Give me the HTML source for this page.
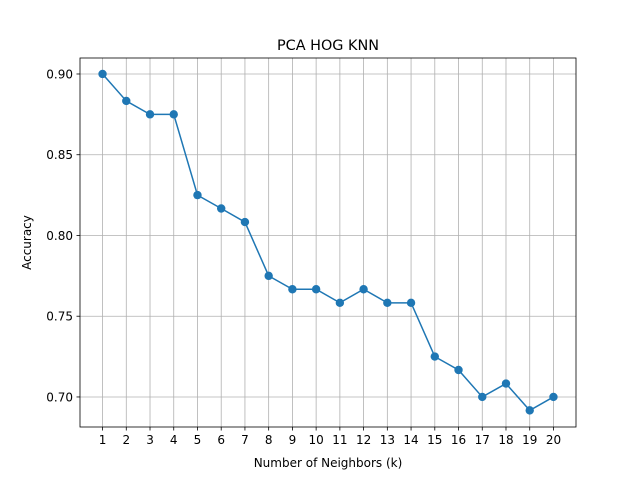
<!DOCTYPE html>
<html><head><meta charset="utf-8"><style>
body{margin:0;background:#fff;}
svg{display:block;font-family:"DejaVu Sans","Liberation Sans",sans-serif;}
</style></head><body>
<svg id="chart" width="640" height="480" viewBox="0 0 640 480">
<rect x="0" y="0" width="640" height="480" fill="#fff"/>
<g id="grid"></g>
<g id="ticks"></g>
<g id="series"></g>
<rect x="80" y="58" width="496" height="369" fill="none" stroke="#000" stroke-width="0.8"/>
<text x="328" y="50" text-anchor="middle" font-size="14.4">PCA HOG KNN</text>
<text x="328" y="467" text-anchor="middle" font-size="12">Number of Neighbors (k)</text>
<text x="31" y="242.5" text-anchor="middle" font-size="12" transform="rotate(-90 31 242.5)">Accuracy</text>
</svg>
<script>
const categories=[1,2,3,4,5,6,7,8,9,10,11,12,13,14,15,16,17,18,19,20];
const accuracy=[0.9,0.8833,0.875,0.875,0.825,0.8167,0.8083,0.775,0.7667,0.7667,0.7583,0.7667,0.7583,0.7583,0.725,0.7167,0.7,0.7083,0.6917,0.7];
const yTicks=[0.70,0.75,0.80,0.85,0.90];
const yTickLabels=["0.70","0.75","0.80","0.85","0.90"];
const NS="http://www.w3.org/2000/svg";
const L=80,R=576,T=58,B=427;
const xmin=0.05,xmax=20.95,ymin=0.6814,ymax=0.9099;
function xs(v){return L+(v-xmin)/(xmax-xmin)*(R-L);}
function ys(v){return B-(v-ymin)/(ymax-ymin)*(B-T);}
function mk(tag,attrs,parent){const e=document.createElementNS(NS,tag);for(const k in attrs)e.setAttribute(k,attrs[k]);document.getElementById(parent).appendChild(e);return e;}
categories.forEach(c=>{
  const x=xs(c);
  const g=mk('line',{x1:x,x2:x,y1:T,y2:B,stroke:'#b0b0b0','stroke-width':0.8},'grid');
  
  
  const t=mk('line',{x1:x,x2:x,y1:B,y2:B+3.5,stroke:'#000','stroke-width':0.8},'ticks');
  
  
  const lb=mk('text',{x:x,y:B+17,'text-anchor':'middle','font-size':12},'ticks');
  lb.textContent=c;
  
  
});
yTicks.forEach((v,i)=>{
  const y=ys(v);
  const g=mk('line',{x1:L,x2:R,y1:y,y2:y,stroke:'#b0b0b0','stroke-width':0.8},'grid');
  
  
  const t=mk('line',{x1:L-3.5,x2:L,y1:y,y2:y,stroke:'#000','stroke-width':0.8},'ticks');
  
  
  const lb=mk('text',{x:L-7,y:y+4.5,'text-anchor':'end','font-size':12},'ticks');
  lb.textContent=yTickLabels[i];
  
  
});
const pts=categories.map((c,i)=>xs(c)+','+ys(accuracy[i])).join(' ');
const line=mk('polyline',{points:pts,fill:'none',stroke:'#1f77b4','stroke-width':1.5},'series');


categories.forEach((c,i)=>{
  const p=mk('circle',{cx:xs(c),cy:ys(accuracy[i]),r:4.2,fill:'#1f77b4'},'series');
  
  
});
</script>
</body></html>
